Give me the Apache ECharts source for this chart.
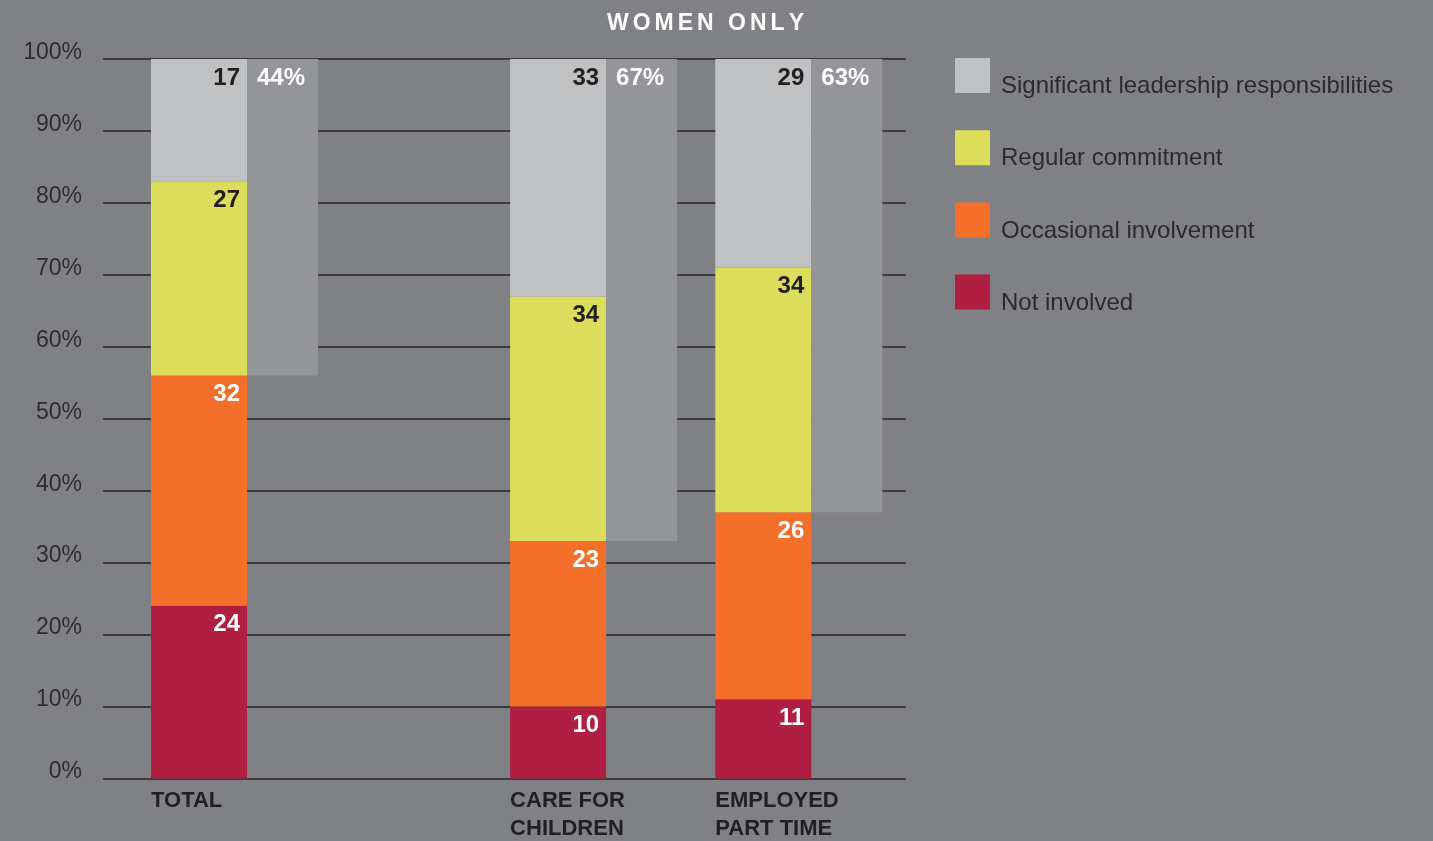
<!DOCTYPE html>
<html>
<head>
<meta charset="utf-8">
<style>
  html, body { margin: 0; padding: 0; background: #808185; }
  #chart { width: 1433px; height: 841px; }
</style>
<script src="https://cdn.jsdelivr.net/npm/echarts@6/dist/echarts.min.js"></script>
</head>
<body>
<div id="chart"></div>
<script>
// ---- data ----
// blank strings are spacer slots that keep the wide gap after TOTAL
const categories = ['TOTAL', '', '', '', '', '', '', 'CARE FOR\nCHILDREN', '', '', '', 'EMPLOYED\nPART TIME'];
const seriesNames = ['Not involved', 'Occasional involvement', 'Regular commitment', 'Significant leadership responsibilities'];
const notInvolved = [24, 10, 11];
const occasional = [32, 23, 26];
const regular = [27, 34, 34];
const significant = [17, 33, 29];
const involvedShare = [44, 67, 63]; // grey bar: regular + significant, in %
const titleText = 'WOMEN ONLY';

// ---- styling ----
const FONT = "'Liberation Sans', Arial, sans-serif";
const colors = ['#b01e41', '#f36f2a', '#dcdd5a', '#c0c1c3'];
const labelColors = ['#ffffff', '#ffffff', '#231f20', '#231f20'];
const gridTop = 59, gridBottom = 62.5;

function spread(vals) {
  let k = 0;
  return categories.map(c => (c ? vals[k++] : '-'));
}

const mainSeries = [notInvolved, occasional, regular, significant].map((vals, i) => ({
  name: seriesNames[i],
  type: 'bar',
  xAxisIndex: 1, yAxisIndex: 1,
  stack: 'main',
  barWidth: 96,
  barGap: '0%',
  clip: false,
  data: spread(vals),
  itemStyle: { color: colors[i] },
  label: {
    show: true,
    position: 'insideTopRight',
    distance: 7,
    formatter: '{c}',
    color: labelColors[i],
    fontFamily: FONT,
    fontSize: 24,
    fontWeight: 'bold'
  },
  emphasis: { disabled: true },
  silent: true
}));

const shareSeries = [
  {
    name: 'base',
    type: 'bar',
    xAxisIndex: 1, yAxisIndex: 1,
    stack: 'share',
    barWidth: 71,
    barGap: '0%',
    clip: false,
    data: spread(involvedShare.map(v => 100 - v)),
    itemStyle: { color: 'rgba(0,0,0,0)' },
    label: { show: false },
    emphasis: { disabled: true },
    silent: true
  },
  {
    name: 'share',
    type: 'bar',
    xAxisIndex: 1, yAxisIndex: 1,
    stack: 'share',
    barWidth: 71,
    barGap: '0%',
    clip: false,
    data: spread(involvedShare),
    itemStyle: { color: '#939598' },
    label: {
      show: true,
      position: 'insideTopLeft',
      distance: 7,
      offset: [3, 0],
      formatter: '{c}%',
      color: '#ffffff',
      fontFamily: FONT,
      fontSize: 24,
      fontWeight: 'bold'
    },
    emphasis: { disabled: true },
    silent: true
  }
];

const chart = echarts.init(document.getElementById('chart'));
chart.setOption({
  animation: false,
  backgroundColor: '#808185',
  title: {
    text: titleText.split('').map(ch => '{l|' + ch + '}').join(''),
    left: 605,
    top: 12,
    padding: 0,
    textStyle: {
      rich: {
        l: { fontFamily: FONT, fontSize: 23, fontWeight: 'bold', color: '#ffffff', padding: [0, 2, 0, 2] }
      }
    }
  },
  legend: {
    orient: 'vertical',
    left: 955,
    top: 58,
    padding: 0,
    itemWidth: 35,
    itemHeight: 35,
    itemGap: 31.7,
    icon: 'rect',
    selectedMode: false,
    data: seriesNames.slice().reverse(),
    formatter: name => '{t|' + name + '}',
    textStyle: {
      fontFamily: FONT,
      fontSize: 24,
      color: '#2b2b2d',
      rich: {
        t: { fontFamily: FONT, fontSize: 24, color: '#2b2b2d', padding: [22, 0, 0, 6] }
      }
    }
  },
  grid: [
    { left: 103, right: 1433 - 906, top: gridTop, bottom: gridBottom },
    { left: 208.85, width: 615.6, top: gridTop, bottom: gridBottom }
  ],
  xAxis: [
    { type: 'value', gridIndex: 0, min: 0, max: 1, show: false },
    {
      type: 'category',
      gridIndex: 1,
      data: categories,
      axisLine: { show: false },
      axisTick: { show: false },
      axisLabel: {
        interval: 0,
        margin: 8,
        formatter: v => (v ? v.split('\n').map(l => '{c|' + l + '}').join('\n') : ''),
        rich: {
          c: { width: 167, align: 'left', fontFamily: FONT, fontSize: 22, fontWeight: 'bold', color: '#231f20', lineHeight: 28 }
        }
      }
    }
  ],
  yAxis: [
    {
      type: 'value',
      gridIndex: 0,
      min: 0, max: 100, interval: 10,
      axisLine: { show: false },
      axisTick: { show: false },
      axisLabel: {
        formatter: '{value}%',
        margin: 21,
        fontFamily: FONT,
        fontSize: 23,
        color: '#2d2d30',
        verticalAlign: 'bottom',
        lineHeight: 13
      },
      splitLine: { show: true, lineStyle: { color: '#3b3b3e', width: 2 } }
    },
    { type: 'value', gridIndex: 1, min: 0, max: 100, interval: 10, show: false, splitLine: { show: false } }
  ],
  series: mainSeries.concat(shareSeries)
});
</script>
</body>
</html>
